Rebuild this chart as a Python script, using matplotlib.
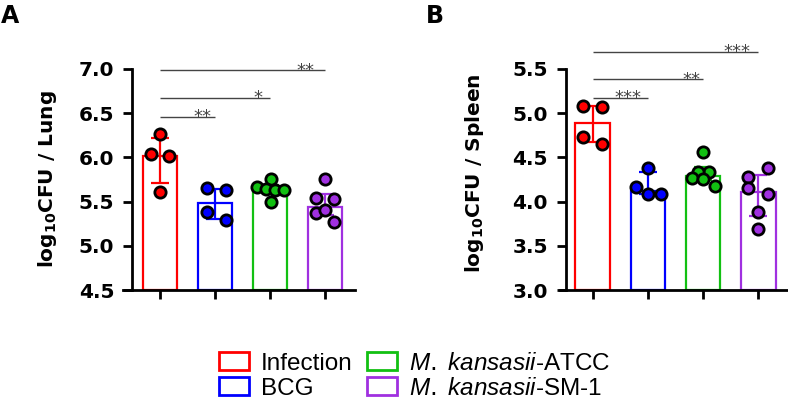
import matplotlib
matplotlib.use("Agg")
import matplotlib.pyplot as plt
from matplotlib.patches import Patch
import numpy as np

plt.rcParams['font.family'] = ['DejaVu Sans']
plt.rcParams['mathtext.fontset'] = 'custom'
plt.rcParams['mathtext.rm'] = 'DejaVu Sans'
plt.rcParams['mathtext.bf'] = 'DejaVu Sans:bold'
plt.rcParams['mathtext.it'] = 'Liberation Sans:italic'

# ---------------- data ----------------
groups = ["Infection", "BCG", "M. kansasii-ATCC", "M. kansasii-SM-1"]
colors = ["#ff0000", "#0000ff", "#12c012", "#a030e0"]

# Lung (panel A)
lung_median = [6.02, 5.48, 5.64, 5.44]
lung_err_low = [5.71, 5.30, 5.60, 5.35]
lung_err_high = [6.215, 5.64, 5.69, 5.59]
lung_inf = [6.27, 6.04, 6.02, 5.61]
lung_bcg = [5.65, 5.63, 5.38, 5.29]
lung_atcc = [5.75, 5.66, 5.64, 5.63, 5.63, 5.50]
lung_sm1 = [5.76, 5.54, 5.53, 5.37, 5.40, 5.27]

# Spleen (panel B)
spleen_median = [4.886, 4.12, 4.29, 4.11]
spleen_err_low = [4.67, 4.09, 4.25, 3.84]
spleen_err_high = [5.08, 4.33, 4.39, 4.30]
spleen_inf = [5.08, 5.07, 4.73, 4.65]
spleen_bcg = [4.38, 4.17, 4.09, 4.09]
spleen_atcc = [4.565, 4.34, 4.33, 4.27, 4.26, 4.18]
spleen_sm1 = [4.38, 4.275, 4.15, 4.085, 3.886, 3.69]

# horizontal scatter offsets of the points (jitter layout)
lung_jit = [[0.0, -0.17, 0.17, 0.0],
            [-0.14, 0.2, -0.14, 0.2],
            [0.02, -0.24, -0.07, 0.09, 0.26, 0.02],
            [0.0, -0.17, 0.17, -0.17, 0.0, 0.17]]
spleen_jit = [[-0.17, 0.17, -0.17, 0.17],
              [0.01, -0.21, 0.01, 0.24],
              [0.0, 0.11, -0.1, -0.2, 0.0, 0.22],
              [0.17, -0.18, -0.18, 0.17, 0.0, 0.0]]

# significance comparisons: (group i, group j, stars, y level, text x)
lung_sig = [(0, 1, "**", 6.46, 0.78), (0, 2, "*", 6.675, 1.78), (0, 3, "**", 6.985, 2.65)]
spleen_sig = [(0, 1, "***", 5.175, 0.64), (0, 2, "**", 5.383, 1.79), (0, 3, "***", 5.696, 2.62)]

lung_ticks = [4.5, 5.0, 5.5, 6.0, 6.5, 7.0]
spleen_ticks = [3.0, 3.5, 4.0, 4.5, 5.0, 5.5]

W, H = 788, 400
fig = plt.figure(figsize=(W / 100, H / 100), dpi=100)


def panel(rect_px, median, lo, hi, pts, jit, sig, ticks, ylabel, ylab_px, letter, letter_px, xlim, spine_x):
    l, t, r, b = rect_px
    ax = fig.add_axes([l / W, 1 - b / H, (r - l) / W, (b - t) / H])
    for s in ["top", "right"]:
        ax.spines[s].set_visible(False)
    ax.spines["left"].set_position(("data", spine_x))
    ax.spines["left"].set_linewidth(2.0)
    ax.spines["bottom"].set_linewidth(2.0)
    ymin, ymax = ticks[0], ticks[-1]
    x = np.arange(len(median))
    heights = [m - ymin for m in median]
    ax.bar(x, heights, bottom=ymin, width=0.63, facecolor="white",
           edgecolor=colors, linewidth=1.6, zorder=2)
    for i in range(len(median)):
        ax.errorbar([i], [median[i]], yerr=[[median[i] - lo[i]], [hi[i] - median[i]]],
                    fmt="none", ecolor=colors[i], elinewidth=1.6, capsize=6.5,
                    capthick=1.6, zorder=3)
        ax.scatter(np.full(len(pts[i]), i) + np.array(jit[i]), pts[i], s=66,
                   facecolor=colors[i], edgecolor="black", linewidths=2.0, zorder=4,
                   clip_on=False)
    for (i, j, stars, yl, tx) in sig:
        ax.plot([i, j], [yl, yl], color="#444444", lw=1.0, zorder=1, clip_on=False,
                solid_capstyle="butt")
        ax.annotate(stars, (tx, yl), xytext=(0, -4), textcoords="offset points",
                    ha="center", va="baseline", fontsize=13, color="#444444",
                    annotation_clip=False)
    ax.set_xlim(*xlim)
    ax.set_ylim(ymin, ymax)
    ax.set_yticks(ticks)
    ax.set_yticklabels([f"{v:.1f}" for v in ticks])
    ax.set_xticks(x)
    ax.set_xticklabels([])
    ax.tick_params(axis="y", direction="out", length=6.5, width=2.0, pad=6.5, labelsize=14.5)
    ax.tick_params(axis="x", direction="out", length=6.5, width=2.0)
    for lab in ax.get_yticklabels():
        lab.set_fontweight("bold")
    fig.text(ylab_px[0] / W, 1 - ylab_px[1] / H, ylabel, rotation=90, ha="center",
             va="center", fontsize=14.5, fontweight="bold")
    fig.text(letter_px[0] / W, 1 - letter_px[1] / H, letter, ha="left", va="top",
             fontsize=17, fontweight="bold")
    return ax


panel((123, 69, 355, 290), lung_median, lung_err_low, lung_err_high,
      [lung_inf, lung_bcg, lung_atcc, lung_sm1], lung_jit, lung_sig, lung_ticks,
      r"log$_{\mathbf{10}}$CFU / Lung", (48, 179), "A", (1, 4), (-0.673, 3.545), -0.504)

panel((560, 69, 788, 290), spleen_median, spleen_err_low, spleen_err_high,
      [spleen_inf, spleen_bcg, spleen_atcc, spleen_sm1], spleen_jit, spleen_sig, spleen_ticks,
      r"log$_{\mathbf{10}}$CFU / Spleen", (475, 173), "B", (426, 4), (-0.595, 3.54), -0.49)

labels = ["Infection", "BCG", r"$\mathit{M.\ kansasii}$-ATCC", r"$\mathit{M.\ kansasii}$-SM-1"]
handles = [Patch(facecolor="white", edgecolor=c, linewidth=2.0) for c in colors]
fig.legend(handles, labels, ncol=2, loc="upper left",
           bbox_to_anchor=(219 / W, 1 - 352 / H), frameon=False,
           prop={"family": "Liberation Sans", "size": 17.5},
           handlelength=1.22, handleheight=0.78, handletextpad=0.5,
           columnspacing=0.6, labelspacing=0.1, borderpad=0, borderaxespad=0)

fig.savefig("out.png", dpi=100)
